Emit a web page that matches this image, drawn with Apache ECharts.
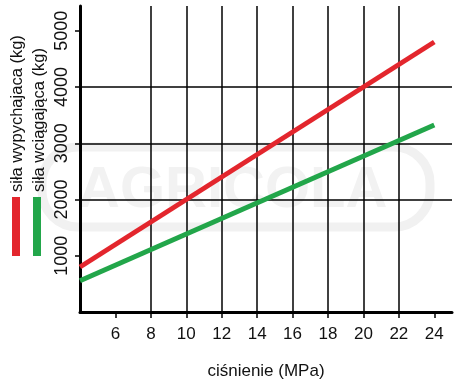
<!DOCTYPE html>
<html><head><meta charset="utf-8">
<script src="https://cdn.jsdelivr.net/npm/echarts@6/dist/echarts.min.js"></script>
<style>html,body{margin:0;padding:0;background:#fff}#c{width:462px;height:385px}</style>
</head><body><div id="c"></div>
<script>
const pressure = [4, 24];
const pushForce = [800, 4800];
const pullForce = [555, 3325];
const xTicks = [6, 8, 10, 12, 14, 16, 18, 20, 22, 24];
const yTicks = [1000, 2000, 3000, 4000, 5000];
const legendNames = ['siła wypychajaca (kg)', 'siła wciągająca (kg)'];
const xName = 'ciśnienie (MPa)';

const FONT = '"Liberation Sans", Arial, sans-serif';
const chart = echarts.init(document.getElementById('c'), null, {renderer: 'canvas'});
chart.setOption({
  animation: false,
  backgroundColor: '#fff',
  grid: {left: 80, right: 10, top: 6, bottom: 68, containLabel: false},
  graphic: [
    {type: 'rect', z: -10, shape: {x: 42, y: 147, width: 388, height: 80, r: 36},
     style: {fill: 'none', stroke: '#f1f1f1', lineWidth: 9}},
    {type: 'text', z: -10, left: 78, top: 162,
     style: {text: 'AGRICOLA', fill: '#f2f2f2', font: 'bold 58px ' + FONT}},
    {type: 'rect', shape: {x: 12, y: 197, width: 8, height: 59}, style: {fill: '#e3262d'}},
    {type: 'rect', shape: {x: 33, y: 197, width: 8, height: 59}, style: {fill: '#22a64a'}},
    {type: 'text', x: 17, y: 192, rotation: Math.PI / 2,
     style: {text: legendNames[0], fill: '#111', font: '16.5px ' + FONT, align: 'left', verticalAlign: 'middle'}},
    {type: 'text', x: 39, y: 192, rotation: Math.PI / 2,
     style: {text: legendNames[1], fill: '#111', font: '16.5px ' + FONT, align: 'left', verticalAlign: 'middle'}}
  ],
  xAxis: {
    type: 'value', min: 4, max: 25, interval: 2,
    name: xName, nameLocation: 'middle', nameGap: 51,
    nameTextStyle: {color: '#111', fontSize: 17, fontFamily: FONT},
    axisLine: {show: true, onZero: false, lineStyle: {color: '#000', width: 3}},
    axisTick: {show: true, length: 6, customValues: xTicks, lineStyle: {color: '#000', width: 1.5}},
    axisLabel: {customValues: xTicks, margin: 14, color: '#111', fontSize: 17, fontFamily: FONT},
    splitLine: {show: true, showMinLine: false, showMaxLine: false, lineStyle: {color: '#000', width: 1.5}}
  },
  yAxis: {
    type: 'value', min: 0, max: 5440, interval: 1000,
    axisLine: {show: true, onZero: false, lineStyle: {color: '#000', width: 3}},
    axisTick: {show: true, length: 5, customValues: yTicks, lineStyle: {color: '#000', width: 1.5}},
    axisLabel: {customValues: yTicks, rotate: 90, margin: 9, color: '#111', fontSize: 18, fontFamily: FONT,
                formatter: v => String(v)},
    splitLine: {show: true, showMinLine: false, showMaxLine: false, lineStyle: {color: '#000', width: 1.5}}
  },
  series: [
    {type: 'line', name: legendNames[0], data: pressure.map((x, i) => [x, pushForce[i]]),
     symbol: 'none', lineStyle: {color: '#e3262d', width: 5}, z: 3},
    {type: 'line', name: legendNames[1], data: pressure.map((x, i) => [x, pullForce[i]]),
     symbol: 'none', lineStyle: {color: '#22a64a', width: 5}, z: 3}
  ]
});
</script></body></html>
